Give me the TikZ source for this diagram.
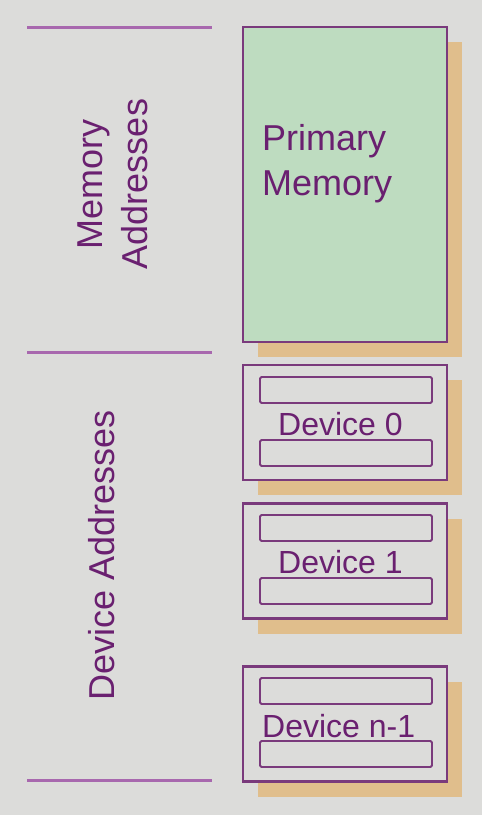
\documentclass[tikz,border=0pt]{standalone}
\usepackage{fontspec}
\setmainfont{Liberation Sans}
\usetikzlibrary{shadows}
\definecolor{bgc}{HTML}{DCDCDA}
\definecolor{boxline}{HTML}{7A3A7C}
\definecolor{rulec}{HTML}{A868AE}
\definecolor{txtc}{HTML}{6A2070}
\definecolor{memfill}{HTML}{BEDCC0}
\definecolor{shadowc}{HTML}{E0BE8C}
\begin{document}
\begin{tikzpicture}[x=1pt,y=-1pt,
  outerbox/.style={draw=boxline, line width=2.2pt, minimum width=204pt, inner sep=0pt,
    drop shadow={shadow xshift=15pt, shadow yshift=-15pt, fill=shadowc, opacity=1}},
  innerbox/.style={draw=boxline, line width=1.9pt, rounded corners=1.5pt, minimum width=172pt, minimum height=26pt, inner sep=0pt},
  rulestyle/.style={draw=rulec, line width=3pt},
  boxtext/.style={text=txtc, font=\fontsize{32}{38}\selectfont, inner sep=0pt, anchor=base west},
  sidetext/.style={text=txtc, font=\fontsize{36}{45}\selectfont, inner sep=0pt, rotate=90, align=center}
]
\useasboundingbox (0,0) rectangle (482,815);
\fill[bgc] (0,0) rectangle (482,815);

% rules on the left
\coordinate (r1a) at (27,27);  \coordinate (r1b) at (212,27);
\coordinate (r2a) at (27,352); \coordinate (r2b) at (212,352);
\coordinate (r3a) at (27,780); \coordinate (r3b) at (212,780);
\draw[rulestyle] (r1a) -- (r1b);
\draw[rulestyle] (r2a) -- (r2b);
\draw[rulestyle] (r3a) -- (r3b);

% side labels
\node[sidetext] (memaddr) at (113,184) {Memory\\Addresses};
\node[sidetext] (devaddr) at (102,555) {Device Addresses};

% primary memory
\node[outerbox, fill=memfill, minimum height=315pt] (pm) at (345,184.5) {};
\node[text=txtc, font=\fontsize{36}{45}\selectfont, inner sep=0pt, anchor=base west] (pmt1) at (262,150) {Primary};
\node[text=txtc, font=\fontsize{36}{45}\selectfont, inner sep=0pt, anchor=base west] (pmt2) at (262,195) {Memory};

% device 0
\node[outerbox, fill=bgc, minimum height=115pt] (d0) at (345,422.5) {};
\node[innerbox] (d0a) at (346,390) {};
\node[innerbox] (d0b) at (346,453) {};
\node[boxtext] (d0t) at (278,435) {Device 0};

% device 1
\node[outerbox, fill=bgc, minimum height=115pt] (d1) at (345,561) {};
\node[innerbox] (d1a) at (346,528) {};
\node[innerbox] (d1b) at (346,591) {};
\node[boxtext] (d1t) at (278,573) {Device 1};

% device n-1
\node[outerbox, fill=bgc, minimum height=115pt] (dn) at (345,724) {};
\node[innerbox] (dna) at (346,691) {};
\node[innerbox] (dnb) at (346,754) {};
\node[boxtext] (dnt) at (262,737) {Device n-1};
\end{tikzpicture}
\end{document}
